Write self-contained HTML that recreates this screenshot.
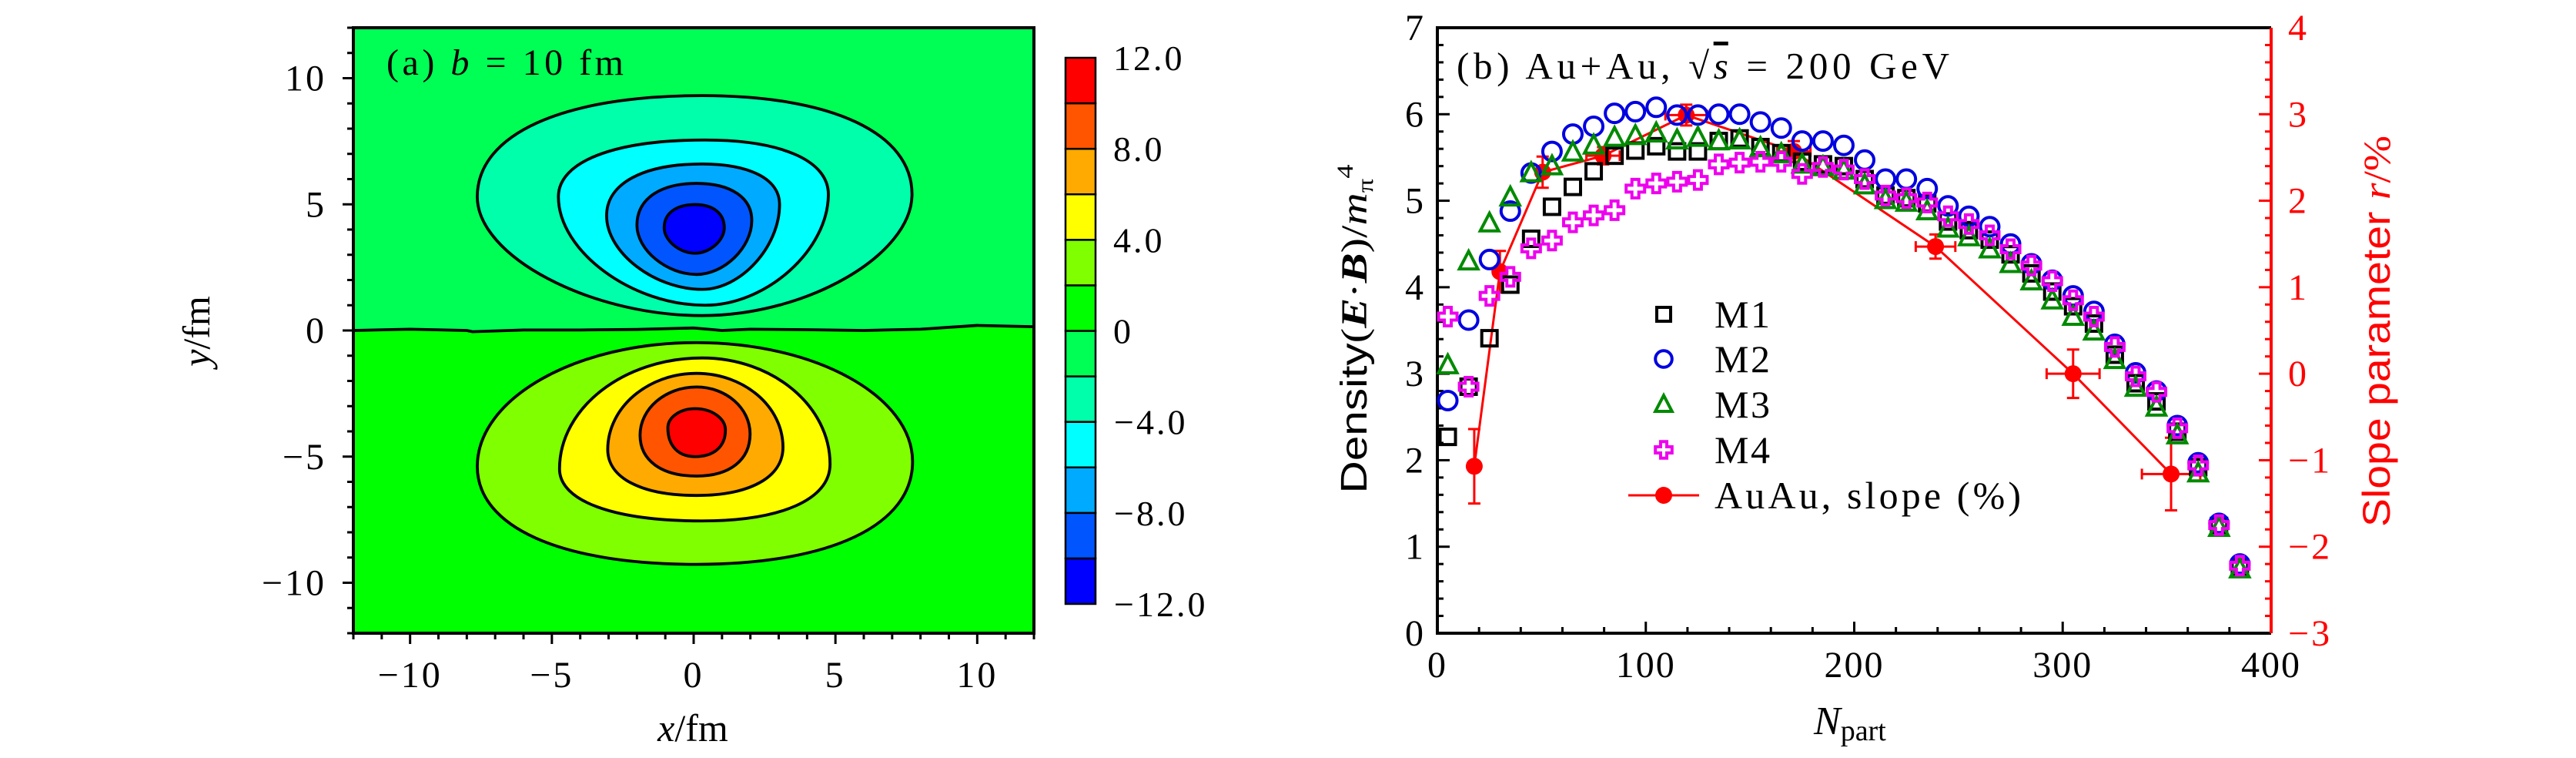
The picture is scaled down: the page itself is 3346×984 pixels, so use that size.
<!DOCTYPE html>
<html><head><meta charset="utf-8"><style>
html,body{margin:0;padding:0;background:#fff;}
svg{display:block;}
text{font-family:"Liberation Serif","DejaVu Serif",serif;}
</style></head><body>
<svg id="fig" width="3346" height="984" viewBox="0 0 3346 984" xmlns="http://www.w3.org/2000/svg">
<g id="left"></g>
<g id="right"></g>
</svg>
<script>
// ---------- Panel (a) data: contour levels in data coords ----------
const levels = [-10,-8,-6,-4,-2, 2,4,6,8,10];
const cTop    = [4.99, 5.83, 6.6, 7.55, 9.31,  -0.48,-1.09,-1.7,-2.24,-3.1];
const cBottom = [3.06, 2.22, 1.63, 1.0, 0.59,  -9.27,-7.55,-6.54,-5.77,-5.0];
const cLeftX  = [-1.04,-2.0,-3.07,-4.77,-7.63, -7.63,-4.73,-3.03,-1.89,-0.91];
const cLeftY  = [4.07, 4.17, 4.55, 5.3, 5.3,   -5.39,-5.49,-4.72,-4.15,-3.86];
const cRightX = [1.08, 2.05, 3.03, 4.75, 7.7,  7.72, 4.81, 3.15, 1.99, 1.12];
const cRightY = [4.07, 4.36, 5.0, 5.4, 5.4,    -5.2,-5.3,-4.63,-4.1,-3.95];
const cCenterX= [0.05, 0.1, 0.3, 0.4, 0.3,     0.1, 0.3, 0.1, 0.1, 0.05];
const bandColors = ['#0000ff','#0055ff','#00aaff','#00ffff','#00ffaa','#00ff55','#00ff00','#80ff00','#ffff00','#ffaa00','#ff5500','#ff0000'];
const cbLabels = ['12.0','8.0','4.0','0','\u22124.0','\u22128.0','\u221212.0'];
const xTicksA = [-10,-5,0,5,10];
const yTicksA = [10,5,0,-5,-10];
const zeroLineX = [-12,-10,-8,-7.8,-6,-4,-2,0,1,2,4,6,8,10,12];
const zeroLineY = [0.0,0.05,0.0,-0.05,0.02,0.02,0.04,0.1,0.0,0.05,0.03,0.0,0.05,0.2,0.15];

// ---------- Panel (b) data ----------
const npart = [5,15,25,35,45,55,65,75,85,95,105,115,125,135,145,155,165,175,185,195,205,215,225,235,245,255,265,275,285,295,305,315,325,335,345,355,365,375,385];
const m1 = [2.27,2.85,3.41,4.03,4.56,4.93,5.16,5.34,5.52,5.58,5.63,5.57,5.57,5.69,5.72,5.62,5.55,5.45,5.42,5.40,5.25,5.06,5.03,4.97,4.76,4.66,4.55,4.38,4.16,3.95,3.78,3.58,3.22,2.89,2.68,2.33,1.92,1.24,0.76];
const m2 = [2.69,3.62,4.32,4.88,5.32,5.57,5.77,5.86,6.01,6.03,6.08,5.99,5.99,6.0,6.0,5.91,5.84,5.69,5.69,5.64,5.47,5.25,5.25,5.14,4.94,4.82,4.70,4.50,4.27,4.08,3.90,3.72,3.34,3.01,2.80,2.40,1.97,1.27,0.80];
const m3 = [3.10,4.30,4.74,5.04,5.32,5.40,5.56,5.64,5.73,5.75,5.78,5.70,5.73,5.69,5.70,5.61,5.54,5.42,5.39,5.35,5.18,5.01,4.98,4.88,4.68,4.58,4.44,4.27,4.07,3.85,3.66,3.49,3.16,2.84,2.61,2.29,1.85,1.22,0.74];
const m4 = [3.66,2.85,3.90,4.12,4.45,4.54,4.75,4.83,4.89,5.14,5.20,5.22,5.24,5.42,5.44,5.45,5.45,5.31,5.39,5.36,5.25,5.06,5.03,4.98,4.82,4.73,4.60,4.44,4.25,4.07,3.85,3.66,3.31,2.97,2.79,2.37,1.94,1.25,0.78];
const slopeN = [17.7,30,50.5,79.5,119.4,171,239,305,352];
const slopeR = [-1.07,1.18,2.33,2.52,2.99,2.57,1.47,0.0,-1.16];
const slopeErrR = [0.43,0.24,0.18,0.1,0.12,0.12,0.14,0.28,0.42];
const slopeErrN = [0,0,0,8,10,8,9.5,12.7,14];
const xTicksB = [0,100,200,300,400];
const yTicksB = [0,1,2,3,4,5,6,7];
const rTicksB = [-3,-2,-1,0,1,2,3,4];
const legendNames = ['M1','M2','M3','M4'];

const NS='http://www.w3.org/2000/svg';
function mk(tag, attrs, parent){const e=document.createElementNS(NS,tag);for(const k in attrs)e.setAttribute(k,attrs[k]);parent.appendChild(e);return e;}

// ======== Panel (a) ========
const L=document.getElementById('left');
const ax0=459, ax1=1343, ay0=36, ay1=822;
const sxA = v => ax0 + (v+12)/24*(ax1-ax0);
const syA = v => ay1 - (v+12)/24*(ay1-ay0);
let bgU=mk('rect',{x:ax0,y:ay0,width:ax1-ax0,height:ay1-ay0,fill:bandColors[5]},L);


let zl='M'+sxA(-12)+','+syA(0);
for(let i=0;i<zeroLineX.length;i++) zl+=' L'+sxA(zeroLineX[i])+','+syA(zeroLineY[i]);
let lowBg=mk('path',{d:zl+' L'+sxA(12)+','+syA(-12)+' L'+sxA(-12)+','+syA(-12)+'Z',fill:bandColors[6]},L);


function contourPath(i){
  const t=[sxA(cCenterX[i]),syA(cTop[i])], b=[sxA(cCenterX[i]),syA(cBottom[i])];
  const l=[sxA(cLeftX[i]),syA(cLeftY[i])], r=[sxA(cRightX[i]),syA(cRightY[i])];
  const upper = levels[i]<0;
  const kt = upper?0.62:0.55, kb = upper?0.5:0.62;
  let d='M'+t[0]+','+t[1];
  d+=' C'+(t[0]+kt*(r[0]-t[0]))+','+t[1]+' '+r[0]+','+(r[1]-kt*(r[1]-t[1]))+' '+r[0]+','+r[1];
  d+=' C'+r[0]+','+(r[1]+kb*(b[1]-r[1]))+' '+(b[0]+kb*(r[0]-b[0]))+','+b[1]+' '+b[0]+','+b[1];
  d+=' C'+(b[0]-kb*(b[0]-l[0]))+','+b[1]+' '+l[0]+','+(l[1]+kb*(b[1]-l[1]))+' '+l[0]+','+l[1];
  d+=' C'+l[0]+','+(l[1]-kt*(l[1]-t[1]))+' '+(t[0]-kt*(t[0]-l[0]))+','+t[1]+' '+t[0]+','+t[1]+'Z';
  return d;
}
const order=[4,3,2,1,0,5,6,7,8,9];
order.forEach(i=>{
  const lv=levels[i];
  const band = lv<0 ? Math.round((lv+12)/2)-1 : Math.round((lv+12)/2);
  const p=mk('path',{d:contourPath(i),fill:bandColors[band],stroke:'#000','stroke-width':3.8},L);
  
  
});
let zp=mk('path',{d:zl,fill:'none',stroke:'#000','stroke-width':3.8},L);


let fr=mk('rect',{x:ax0,y:ay0,width:ax1-ax0,height:ay1-ay0,fill:'none',stroke:'#000','stroke-width':4},L);


for(let v=-12;v<=12;v++){
  const maj=v%5===0;
  mk('line',{x1:sxA(v),x2:sxA(v),y1:ay1,y2:ay1+(maj?14:8),stroke:'#000','stroke-width':3},L);
  mk('line',{y1:syA(v),y2:syA(v),x1:ax0,x2:ax0-(maj?14:8),stroke:'#000','stroke-width':3},L);
}
xTicksA.forEach(v=>{const t=mk('text',{x:sxA(v),y:892,'font-size':48,'text-anchor':'middle','letter-spacing':3},L);t.textContent=v<0?'\u2212'+(-v):String(v);
  });
yTicksA.forEach(v=>{const t=mk('text',{x:424,y:syA(v)+16,'font-size':48,'text-anchor':'end','letter-spacing':3},L);t.textContent=v<0?'\u2212'+(-v):String(v);
  });
let ta=mk('text',{x:502,y:97,'font-size':48,textLength:308,lengthAdjust:'spacing'},L);
ta.innerHTML='(a) <tspan font-style="italic">b</tspan> = 10 fm';


let xla=mk('text',{x:900,y:962,'font-size':50,'text-anchor':'middle'},L);
xla.innerHTML='<tspan font-style="italic">x</tspan>/fm';


let yla=mk('text',{x:0,y:0,'font-size':50,'text-anchor':'middle',transform:'translate(272,430) rotate(-90)'},L);
yla.innerHTML='<tspan font-style="italic">y</tspan>/fm';


const cbx=1384, cbw=39, cbt=75, cbb=784, cbh=(cbb-cbt)/12;
bandColors.forEach((c,k)=>{
  const r=mk('rect',{x:cbx,y:cbb-(k+1)*cbh,width:cbw,height:cbh,fill:c,stroke:'#000','stroke-width':2.5},L);
  
  
});
cbLabels.forEach((s,k)=>{const t=mk('text',{x:s[0]==='\u2212'?1447:1446,y:cbt+k*2*cbh+16,'font-size':46,'letter-spacing':3},L);t.textContent=s;
  });

// ======== Panel (b) ========
const R=document.getElementById('right');
const bx0=1867, bx1=2950, by0=36, by1=822;
const sx = n => bx0 + n/400*(bx1-bx0);
const sy = v => by1 - v/7*(by1-by0);
const sr = r => by1 - (r+3)/7*(by1-by0);
for(let n=0;n<=400;n+=20){const maj=n%100===0;mk('line',{x1:sx(n),x2:sx(n),y1:by1,y2:by1-(maj?15:8),stroke:'#000','stroke-width':3},R);}
for(let k=0;k<=35;k++){const v=k*0.2,maj=k%5===0;
  mk('line',{x1:bx0,x2:bx0+(maj?16:8),y1:sy(v),y2:sy(v),stroke:'#000','stroke-width':3},R);
  mk('line',{x1:bx1,x2:bx1-(maj?16:8),y1:sy(v),y2:sy(v),stroke:'#f00','stroke-width':3},R);}
mk('path',{d:`M${bx1},${by0} L${bx0},${by0} L${bx0},${by1} L${bx1},${by1}`,fill:'none',stroke:'#000','stroke-width':4},R);
let rax=mk('line',{x1:bx1,x2:bx1,y1:by0,y2:by1,stroke:'#f00','stroke-width':4},R);


xTicksB.forEach(v=>{const t=mk('text',{x:sx(v),y:879,'font-size':48,'text-anchor':'middle','letter-spacing':2},R);t.textContent=v;
  });
yTicksB.forEach(v=>{const t=mk('text',{x:1849,y:sy(v)+16,'font-size':48,'text-anchor':'end'},R);t.textContent=v;
  });
rTicksB.forEach(v=>{const t=mk('text',{x:2972,y:sr(v)+16,'font-size':48,fill:'#f00','letter-spacing':3},R);t.textContent=v<0?'\u2212'+(-v):v;
  });
let sl='';slopeN.forEach((n,i)=>{sl+=(i?' L':'M')+sx(n)+','+sr(slopeR[i]);});
let slp=mk('path',{d:sl,fill:'none',stroke:'#f00','stroke-width':3},R);


slopeN.forEach((n,i)=>{
  const g=mk('g',{},R);
  
  
  const x=sx(n),y=sr(slopeR[i]),e=slopeErrR[i]/7*(by1-by0),ex=slopeErrN[i]/400*(bx1-bx0);
  mk('line',{x1:x,x2:x,y1:y-e,y2:y+e,stroke:'#f00','stroke-width':3},g);
  mk('line',{x1:x-8,x2:x+8,y1:y-e,y2:y-e,stroke:'#f00','stroke-width':3},g);
  mk('line',{x1:x-8,x2:x+8,y1:y+e,y2:y+e,stroke:'#f00','stroke-width':3},g);
  if(ex>0){mk('line',{x1:x-ex,x2:x+ex,y1:y,y2:y,stroke:'#f00','stroke-width':3},g);
    mk('line',{x1:x-ex,x2:x-ex,y1:y-7,y2:y+7,stroke:'#f00','stroke-width':3},g);
    mk('line',{x1:x+ex,x2:x+ex,y1:y-7,y2:y+7,stroke:'#f00','stroke-width':3},g);}
  mk('circle',{cx:x,cy:y,r:11,fill:'#f00'},g);
});
function marker(type,x,y,parent,s){
  s=s||1;
  if(type===0) return mk('rect',{x:x-10*s,y:y-10*s,width:20*s,height:20*s,fill:'none',stroke:'#000','stroke-width':4},parent);
  if(type===1) return mk('ellipse',{cx:x,cy:y,rx:12*s,ry:12*s,fill:'none',stroke:'#0000e0','stroke-width':4},parent);
  if(type===2) return mk('path',{d:`M${x},${y-13*s} L${x+12*s},${y+10*s} L${x-12*s},${y+10*s}Z`,fill:'none',stroke:'#008a00','stroke-width':4},parent);
  const a=4.5*s,b=12*s;
  return mk('path',{d:`M${x-a},${y-b} H${x+a} V${y-a} H${x+b} V${y+a} H${x+a} V${y+b} H${x-a} V${y+a} H${x-b} V${y-a} H${x-a}Z`,fill:'none',stroke:'#ee00ee','stroke-width':4},parent);
}
[m1,m2,m3,m4].forEach((ser,k)=>{
  const g=mk('g',{},R);
  
  
  ser.forEach((v,i)=>{
    const m=marker(k,sx(npart[i]),sy(v),g);
    
    
  });
});
const lg=mk('g',{},R);


const legY=[408,466,525,584,643];
legendNames.forEach((nm,k)=>{
  const e=mk('g',{},lg);
  
  
  marker(k,2161,legY[k],e,0.9);
  const t=mk('text',{x:2227,y:legY[k]+17,'font-size':50,textLength:72,lengthAdjust:'spacing'},e);t.textContent=nm;
});
const le=mk('g',{},lg);


mk('line',{x1:2115,x2:2207,y1:643,y2:643,stroke:'#f00','stroke-width':3},le);
mk('circle',{cx:2161,cy:643,r:11,fill:'#f00'},le);
const lt=mk('text',{x:2227,y:660,'font-size':50,textLength:398,lengthAdjust:'spacing'},le);lt.textContent='AuAu, slope (%)';
let tb=mk('text',{x:1892,y:102,'font-size':49,textLength:640,lengthAdjust:'spacing'},R);
tb.innerHTML='(b) Au+Au, \u221A<tspan text-decoration="overline" font-style="italic">s</tspan> = 200 GeV';


let xl=mk('text',{x:2356,y:953,'font-size':52},R);
xl.innerHTML='<tspan font-style="italic">N</tspan><tspan font-size="38" dy="8">part</tspan>';


let yl=mk('text',{x:0,y:0,'font-size':48,'text-anchor':'middle',transform:'translate(1775,427) rotate(-90)',textLength:427,lengthAdjust:'spacingAndGlyphs'},R);
yl.innerHTML='<tspan font-family="Liberation Sans, sans-serif">Density</tspan>(<tspan font-weight="bold" font-style="italic">E</tspan>·<tspan font-weight="bold" font-style="italic">B</tspan>)/<tspan font-style="italic">m</tspan><tspan font-size="30" dy="8">π</tspan><tspan font-size="30" dy="-26">4</tspan>';


let rl=mk('text',{x:0,y:0,'font-size':50,'text-anchor':'middle',fill:'#f00',transform:'translate(3104,430) rotate(-90)',textLength:508,lengthAdjust:'spacingAndGlyphs'},R);
rl.innerHTML='<tspan font-family="Liberation Sans, sans-serif">Slope parameter </tspan><tspan font-style="italic">r</tspan>/%';


</script>
</body></html>
